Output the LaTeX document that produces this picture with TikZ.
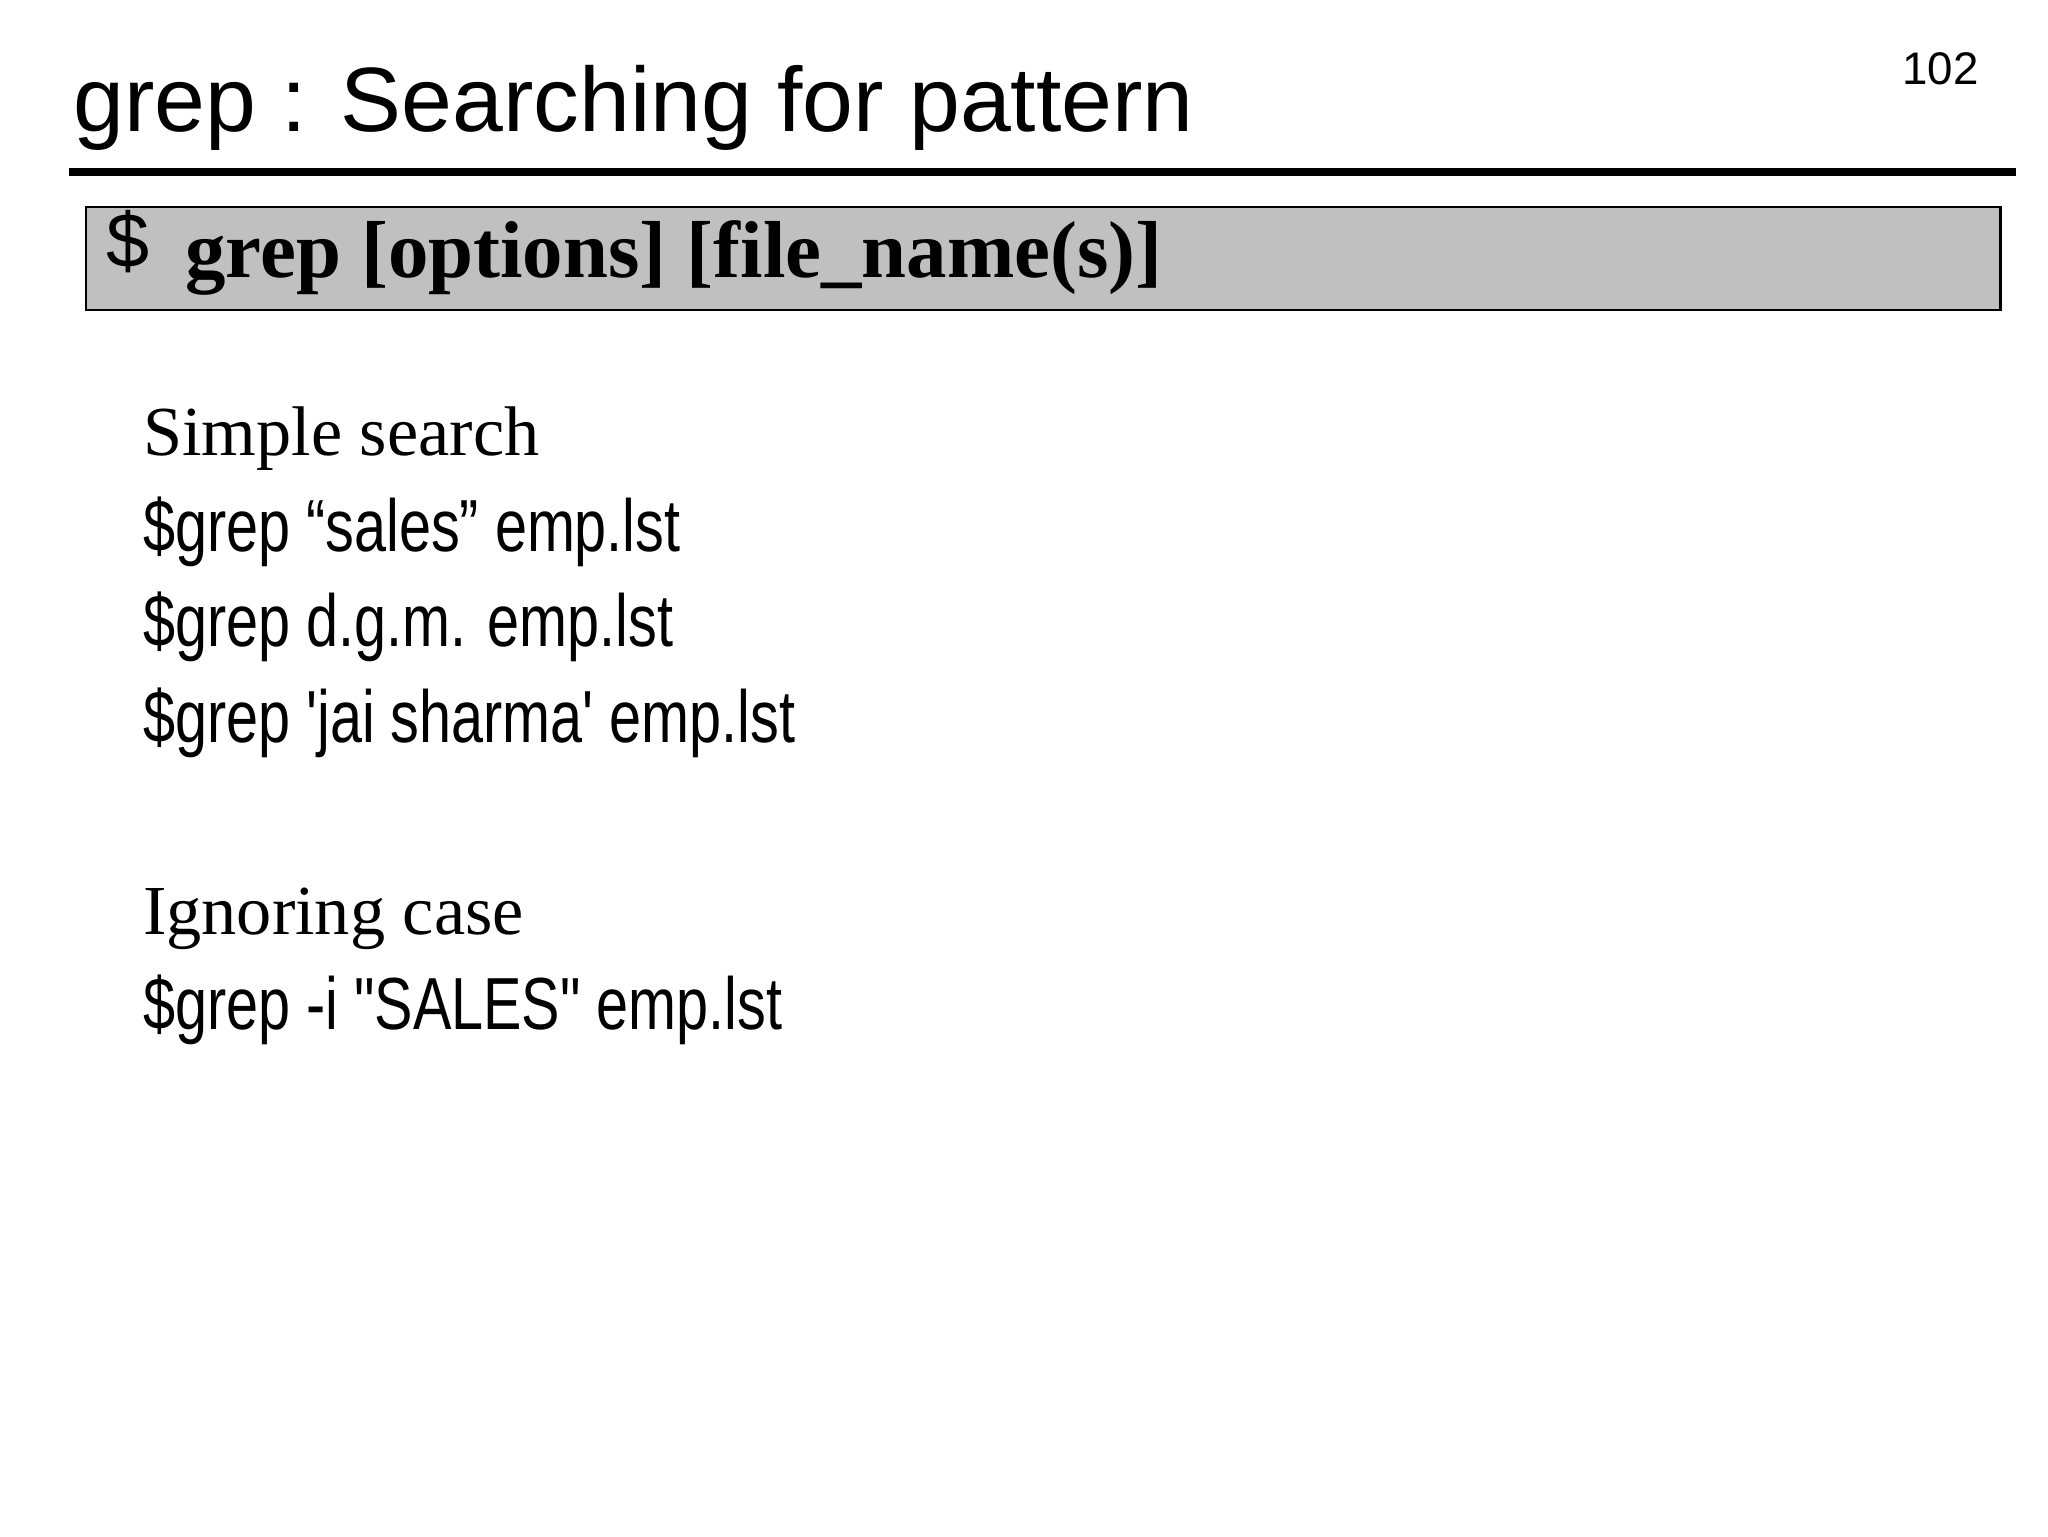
\documentclass[tikz,border=0pt]{standalone}
\usepackage{fontspec}
\setmainfont{Liberation Serif}
\newfontfamily\arial{Liberation Sans}
\newfontfamily\narrow[FakeStretch=0.78]{Liberation Sans}
\begin{document}
\begin{tikzpicture}[x=0.0132cm,y=-0.0132cm,
  title/.style={anchor=base west,inner sep=0,font=\arial\fontsize{26}{30}\selectfont},
  cmd/.style={anchor=base west,inner sep=0,font=\narrow\fontsize{21}{25}\selectfont},
  head/.style={anchor=base west,inner sep=0,font=\fontsize{20}{24}\selectfont}]
\useasboundingbox (0,0) rectangle (1552,1164);
\node[title] (t) at (55,100) {grep : Searching for pattern};
\node[anchor=base east,inner sep=0,font=\arial\fontsize{13}{15}\selectfont] (pg) at (1500,64) {102};
\draw[line width=6*0.0132cm] (52,130) -- (1528,130);
\draw[fill={rgb,255:red,192;green,192;blue,192},line width=0.6pt] (65,157) rectangle (1516,235);
\node[anchor=base west,inner sep=0,font=\arial\fontsize{22}{26}\selectfont] (d) at (80,203) {\$};
\node[anchor=base west,inner sep=0,font=\bfseries\fontsize{23}{27}\selectfont] (syn) at (140,210) {grep [options] [file\_name(s)]};
\node[head] (h1) at (108,345) {Simple search};
\node[cmd] (c1) at (108,418) {\$grep “sales” emp.lst};
\node[cmd] (c2) at (108,490) {\$grep d.g.m. emp.lst};
\node[cmd] (c3) at (108,563) {\$grep 'jai sharma' emp.lst};
\node[head] (h2) at (108,708) {Ignoring case};
\node[cmd] (c4) at (108,780) {\$grep -i "SALES" emp.lst};
\end{tikzpicture}
\end{document}
